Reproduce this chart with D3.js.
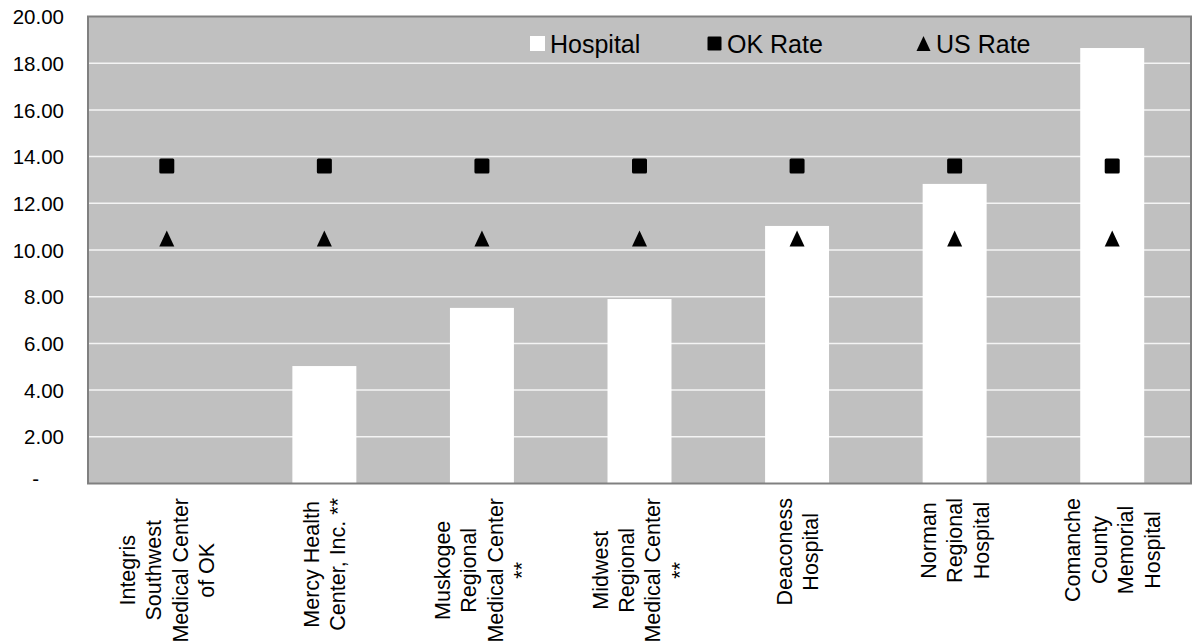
<!DOCTYPE html>
<html>
<head>
<meta charset="utf-8">
<script src="https://cdn.jsdelivr.net/npm/d3@7"></script>
<style>
  html, body { margin: 0; padding: 0; background: #ffffff; }
  svg { display: block; font-family: "Liberation Sans", Arial, sans-serif; }
</style>
</head>
<body>
<svg id="chart" width="1193" height="643"></svg>
<script>
// ---- data ----
const categories = [
  ["Integris", "Southwest", "Medical Center", "of OK"],
  ["Mercy Health", "Center, Inc. **"],
  ["Muskogee", "Regional", "Medical Center", "**"],
  ["Midwest", "Regional", "Medical Center", "**"],
  ["Deaconess", "Hospital"],
  ["Norman", "Regional", "Hospital"],
  ["Comanche", "County", "Memorial", "Hospital"]
];
const hospitalValues = [null, 5.03, 7.52, 7.90, 11.03, 12.83, 18.65];
const okRateValues   = [13.60, 13.60, 13.60, 13.60, 13.60, 13.60, 13.60];
const usRateValues   = [10.45, 10.45, 10.45, 10.45, 10.45, 10.45, 10.45];
const yTicks = [0, 2, 4, 6, 8, 10, 12, 14, 16, 18, 20];
const legendLabels = ["Hospital", "OK Rate", "US Rate"];

// ---- layout ----
const svg = d3.select("#chart");
const plot = { left: 88, right: 1191, top: 16.5, bottom: 483.5 };

const x = d3.scaleBand()
  .domain(d3.range(categories.length))
  .range([plot.left, plot.right])
  .paddingInner(0).paddingOuter(0);
const y = d3.scaleLinear().domain([0, 20]).range([plot.bottom, plot.top]);
const barW = x.step() * 0.406;

// plot background
svg.append("rect")
  .attr("x", plot.left).attr("y", plot.top)
  .attr("width", plot.right - plot.left).attr("height", plot.bottom - plot.top)
  .attr("fill", "#c0c0c0");

// gridlines
svg.append("g").selectAll("line")
  .data(yTicks.filter(d => d > 0 && d < 20))
  .join("line")
  .attr("x1", plot.left).attr("x2", plot.right)
  .attr("y1", d => y(d)).attr("y2", d => y(d))
  .attr("stroke", "#f4f4f4").attr("stroke-width", 1.5);

// bars
svg.append("g").selectAll("rect")
  .data(hospitalValues.map((v, i) => ({ v, i })).filter(d => d.v != null))
  .join("rect")
  .attr("x", d => x(d.i) + x.bandwidth() / 2 - barW / 2)
  .attr("width", barW)
  .attr("y", d => y(d.v))
  .attr("height", d => y(0) - y(d.v))
  .attr("fill", "#ffffff");

// plot border
svg.append("rect")
  .attr("x", plot.left).attr("y", plot.top)
  .attr("width", plot.right - plot.left).attr("height", plot.bottom - plot.top)
  .attr("fill", "none").attr("stroke", "#808080").attr("stroke-width", 2);

// OK rate squares
const sq = 15;
svg.append("g").selectAll("rect")
  .data(okRateValues)
  .join("rect")
  .attr("x", (d, i) => x(i) + x.bandwidth() / 2 - sq / 2)
  .attr("y", d => y(d) - sq / 2)
  .attr("width", sq).attr("height", sq)
  .attr("rx", 1.5)
  .attr("fill", "#000000");

// US rate triangles
const triPath = "M0,-9 L7.5,7 L-7.5,7 Z";
svg.append("g").selectAll("path")
  .data(usRateValues)
  .join("path")
  .attr("d", triPath)
  .attr("transform", (d, i) => `translate(${x(i) + x.bandwidth() / 2},${y(d)})`)
  .attr("fill", "#000000");

// y axis labels
const yAxis = d3.axisLeft(y)
  .tickValues(yTicks)
  .tickSize(0)
  .tickPadding(0)
  .tickFormat(d => d === 0 ? "-" : d3.format(".2f")(d));
const yg = svg.append("g")
  .attr("transform", "translate(64,0)")
  .call(yAxis);
yg.select(".domain").remove();
yg.selectAll("text")
  .attr("font-size", "20.5px")
  .attr("font-family", "'Liberation Sans', Arial, sans-serif")
  .attr("fill", "#000")
  .attr("dy", "0.35em");
yg.selectAll(".tick").filter(d => d === 0).select("text")
  .attr("x", -25).attr("dy", "0.1em");

// category labels (rotated, lines centered, block top-anchored)
const labFs = 21.5, labLh = 26.5, labTop = 498;
categories.forEach((lines, i) => {
  const cx = x(i) + x.bandwidth() / 2;
  const g = svg.append("g")
    .attr("transform", `translate(${cx},${labTop}) rotate(-90)`);
  const texts = g.selectAll("text")
    .data(lines)
    .join("text")
    .attr("font-size", labFs + "px")
    .attr("fill", "#000")
    .attr("text-anchor", "middle")
    .text(d => d);
  let maxW = 0;
  texts.each(function () { maxW = Math.max(maxW, this.getComputedTextLength()); });
  const n = lines.length;
  texts
    .attr("x", -maxW / 2)
    .attr("y", (d, j) => (j - (n - 1) / 2) * labLh + 0.36 * labFs);
});

// legend
const legFs = 25;
const lg = svg.append("g");
const legItems = [
  { label: legendLabels[0], mx: 537.5, tx: 550 },
  { label: legendLabels[1], mx: 714.5, tx: 727 },
  { label: legendLabels[2], mx: 923.5, tx: 936 }
];
const legY = 44;
lg.append("rect").attr("x", legItems[0].mx - 7.5).attr("y", legY - 8)
  .attr("width", 15).attr("height", 15).attr("fill", "#ffffff");
lg.append("rect").attr("x", legItems[1].mx - 7).attr("y", legY - 7.5)
  .attr("width", 14).attr("height", 14).attr("rx", 1.2).attr("fill", "#000");
lg.append("path").attr("d", "M0,-8 L7,7 L-7,7 Z")
  .attr("transform", `translate(${legItems[2].mx},${legY})`).attr("fill", "#000");
lg.selectAll("text")
  .data(legItems)
  .join("text")
  .attr("x", d => d.tx)
  .attr("y", legY + 9)
  .attr("font-size", legFs + "px")
  .attr("fill", "#000")
  .text(d => d.label);
</script>
</body>
</html>
